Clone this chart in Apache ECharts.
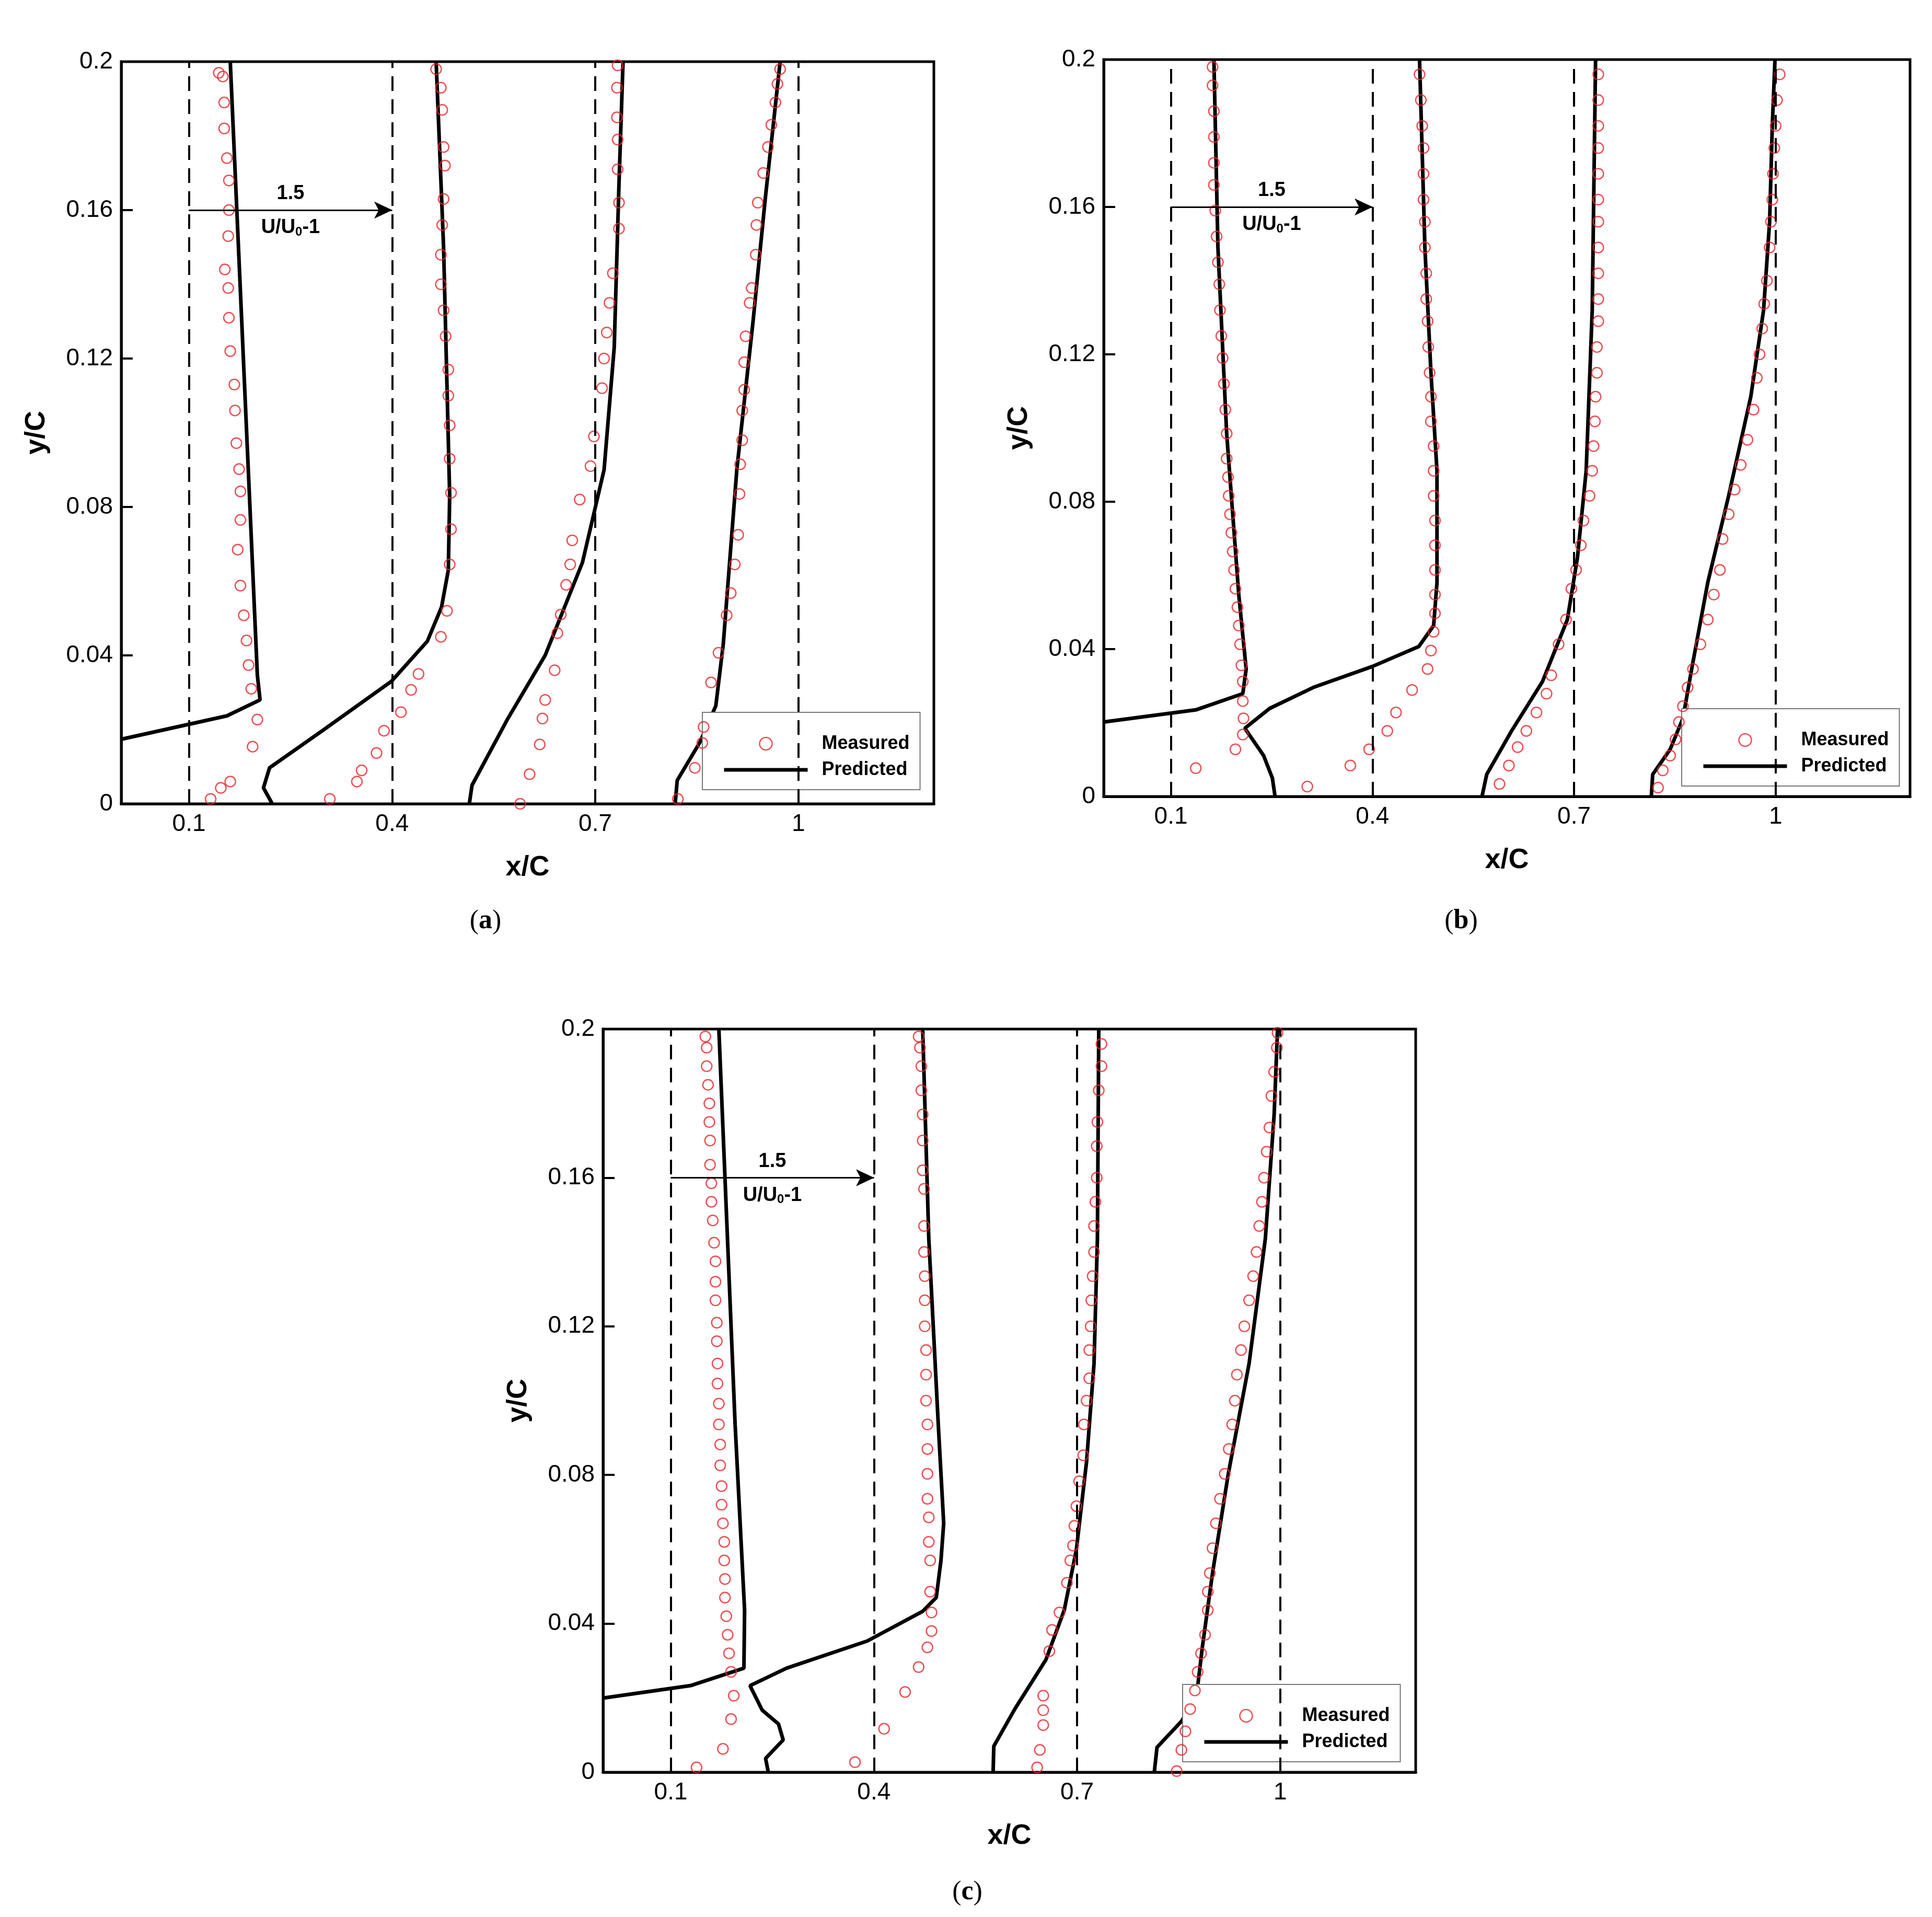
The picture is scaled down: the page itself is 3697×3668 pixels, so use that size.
<!DOCTYPE html>
<html><head><meta charset="utf-8">
<script src="https://cdn.jsdelivr.net/npm/echarts@6/dist/echarts.min.js"></script>
<style>html,body{margin:0;padding:0;background:#fff}#c{width:3697px;height:3668px}</style>
</head><body><div id="c"></div>
<script>
const xTicks = [0.1, 0.4, 0.7, 1];
const baselines = [0.1, 0.4, 0.7, 1.0];

// Panel (a)
const a_pred1 = [[0,0.0174],[0.156,0.0237],[0.205,0.028],[0.201,0.0347],[0.161,0.2]];
const a_pred2 = [[0.223,0],[0.21,0.0043],[0.219,0.0097],[0.297,0.0197],[0.399,0.033],[0.452,0.0438],[0.473,0.053],[0.483,0.063],[0.485,0.083],[0.476,0.15],[0.465,0.2]];
const a_pred3 = [[0.514,0],[0.518,0.005],[0.571,0.023],[0.626,0.04],[0.681,0.065],[0.713,0.09],[0.728,0.123],[0.735,0.167],[0.741,0.2]];
const a_pred4 = [[0.818,0],[0.821,0.0063],[0.854,0.0164],[0.878,0.0264],[0.889,0.043],[0.909,0.09],[0.933,0.13],[0.951,0.163],[0.973,0.2]];
const a_meas1 = [[0.132,0.0013],[0.147,0.0043],[0.161,0.006],[0.194,0.0154],[0.201,0.0227],[0.192,0.031],[0.188,0.0374],[0.185,0.044],[0.181,0.0508],[0.176,0.0588],[0.172,0.0685],[0.176,0.0765],[0.176,0.0842],[0.174,0.0902],[0.17,0.0972],[0.168,0.106],[0.167,0.113],[0.161,0.122],[0.159,0.131],[0.158,0.139],[0.153,0.144],[0.158,0.153],[0.159,0.16],[0.159,0.168],[0.156,0.174],[0.152,0.182],[0.152,0.189],[0.15,0.196],[0.144,0.197]];
const a_meas2 = [[0.308,0.0013],[0.348,0.006],[0.355,0.009],[0.377,0.0137],[0.388,0.0197],[0.413,0.0247],[0.428,0.0307],[0.439,0.035],[0.472,0.045],[0.481,0.052],[0.485,0.0645],[0.487,0.074],[0.487,0.0838],[0.485,0.093],[0.485,0.102],[0.483,0.11],[0.483,0.117],[0.479,0.126],[0.476,0.133],[0.472,0.14],[0.472,0.148],[0.474,0.156],[0.476,0.163],[0.478,0.172],[0.476,0.177],[0.474,0.187],[0.472,0.193],[0.465,0.198]];
const a_meas3 = [[0.589,0],[0.603,0.008],[0.618,0.016],[0.622,0.023],[0.626,0.028],[0.64,0.036],[0.644,0.046],[0.649,0.051],[0.657,0.059],[0.663,0.0645],[0.666,0.071],[0.677,0.082],[0.693,0.091],[0.698,0.099],[0.71,0.112],[0.713,0.12],[0.717,0.127],[0.721,0.135],[0.726,0.143],[0.735,0.155],[0.735,0.162],[0.733,0.171],[0.733,0.179],[0.732,0.185],[0.732,0.193],[0.733,0.199]];
const a_meas4 = [[0.822,0.0013],[0.847,0.0097],[0.858,0.0164],[0.86,0.0207],[0.871,0.0327],[0.882,0.0407],[0.894,0.0508],[0.9,0.0568],[0.906,0.0645],[0.911,0.0725],[0.913,0.0835],[0.914,0.0915],[0.917,0.098],[0.917,0.106],[0.92,0.1116],[0.92,0.119],[0.922,0.126],[0.928,0.135],[0.931,0.139],[0.937,0.148],[0.938,0.156],[0.94,0.162],[0.948,0.17],[0.955,0.177],[0.96,0.183],[0.966,0.189],[0.969,0.194],[0.973,0.198]];

// Panel (b)
const b_pred1 = [[0,0.0202],[0.137,0.0235],[0.207,0.0279],[0.212,0.0346],[0.201,0.0548],[0.183,0.0985],[0.17,0.149],[0.164,0.2]];
const b_pred2 = [[0.255,0],[0.251,0.005],[0.238,0.0111],[0.21,0.0185],[0.247,0.0239],[0.312,0.0296],[0.4,0.0353],[0.469,0.0407],[0.491,0.0464],[0.496,0.0581],[0.496,0.0884],[0.487,0.115],[0.478,0.149],[0.47,0.2]];
const b_pred3 = [[0.563,0],[0.570,0.006],[0.607,0.0178],[0.653,0.0312],[0.69,0.048],[0.705,0.0648],[0.718,0.0884],[0.727,0.132],[0.732,0.2]];
const b_pred4 = [[0.815,0],[0.817,0.006],[0.843,0.0128],[0.862,0.0212],[0.875,0.0346],[0.899,0.0581],[0.93,0.0816],[0.963,0.1085],[0.982,0.132],[0.991,0.156],[0.995,0.182],[0.999,0.2]];
const b_meas1 = [[0.137,0.0077],[0.196,0.0128],[0.207,0.0168],[0.208,0.0212],[0.207,0.0259],[0.207,0.0312],[0.205,0.0356],[0.203,0.0413],[0.201,0.0464],[0.199,0.0514],[0.196,0.0564],[0.194,0.0615],[0.192,0.0665],[0.19,0.0716],[0.188,0.0766],[0.186,0.0816],[0.185,0.0867],[0.183,0.0917],[0.183,0.0985],[0.181,0.105],[0.179,0.112],[0.177,0.119],[0.175,0.125],[0.173,0.132],[0.172,0.139],[0.17,0.145],[0.168,0.152],[0.166,0.159],[0.164,0.166],[0.164,0.172],[0.164,0.179],[0.164,0.186],[0.162,0.193],[0.162,0.198]];
const b_meas2 = [[0.303,0.0027],[0.367,0.0084],[0.395,0.0128],[0.422,0.0178],[0.435,0.0228],[0.459,0.0289],[0.482,0.0346],[0.487,0.0396],[0.491,0.0447],[0.493,0.0497],[0.493,0.0548],[0.493,0.0615],[0.493,0.0682],[0.493,0.0749],[0.491,0.0816],[0.491,0.0884],[0.491,0.0951],[0.487,0.1018],[0.487,0.1085],[0.485,0.115],[0.483,0.122],[0.482,0.129],[0.48,0.135],[0.48,0.142],[0.478,0.149],[0.478,0.156],[0.476,0.162],[0.476,0.169],[0.476,0.176],[0.474,0.182],[0.472,0.189],[0.47,0.196]];
const b_meas3 = [[0.589,0.0034],[0.603,0.0084],[0.616,0.0134],[0.629,0.0178],[0.644,0.0228],[0.659,0.0279],[0.666,0.0329],[0.677,0.0413],[0.688,0.048],[0.696,0.0564],[0.703,0.0615],[0.71,0.0682],[0.714,0.0749],[0.723,0.0816],[0.727,0.0884],[0.729,0.0951],[0.731,0.1018],[0.732,0.1085],[0.734,0.115],[0.734,0.122],[0.736,0.129],[0.736,0.135],[0.736,0.142],[0.736,0.149],[0.736,0.156],[0.736,0.162],[0.736,0.169],[0.736,0.176],[0.736,0.182],[0.736,0.189],[0.736,0.196]];
const b_meas4 = [[0.825,0.0024],[0.832,0.0071],[0.843,0.0111],[0.851,0.0155],[0.856,0.0202],[0.862,0.0245],[0.869,0.0296],[0.877,0.0346],[0.888,0.0413],[0.899,0.048],[0.908,0.0548],[0.917,0.0615],[0.921,0.0699],[0.93,0.0766],[0.939,0.0833],[0.948,0.09],[0.958,0.0968],[0.967,0.105],[0.972,0.1136],[0.976,0.12],[0.98,0.127],[0.983,0.1337],[0.987,0.14],[0.991,0.149],[0.993,0.156],[0.995,0.162],[0.996,0.169],[0.998,0.176],[1.0,0.182],[1.002,0.189],[1.006,0.196]];

// Panel (c)
const c_pred1 = [[0.002,0.02],[0.129,0.0233],[0.208,0.028],[0.209,0.0436],[0.195,0.0936],[0.171,0.2]];
const c_pred2 = [[0.244,0],[0.240,0.0037],[0.266,0.0087],[0.259,0.013],[0.235,0.0167],[0.217,0.0233],[0.271,0.028],[0.39,0.0353],[0.472,0.0433],[0.492,0.047],[0.499,0.057],[0.503,0.067],[0.495,0.0936],[0.481,0.1436],[0.472,0.2]];
const c_pred3 = [[0.576,0],[0.577,0.007],[0.608,0.017],[0.654,0.0303],[0.681,0.0436],[0.699,0.06],[0.714,0.0836],[0.725,0.11],[0.73,0.1436],[0.732,0.2]];
const c_pred4 = [[0.814,0],[0.818,0.0067],[0.854,0.0137],[0.876,0.02],[0.885,0.0337],[0.9,0.0536],[0.923,0.08],[0.954,0.11],[0.978,0.1436],[0.991,0.177],[0.996,0.2]];
const c_meas1 = [[0.138,0.0013],[0.177,0.0063],[0.189,0.0143],[0.193,0.0206],[0.189,0.027],[0.186,0.032],[0.184,0.037],[0.182,0.042],[0.18,0.047],[0.18,0.052],[0.179,0.057],[0.179,0.062],[0.177,0.067],[0.175,0.072],[0.175,0.077],[0.173,0.0826],[0.173,0.0882],[0.171,0.0936],[0.171,0.0992],[0.169,0.1046],[0.169,0.11],[0.168,0.116],[0.168,0.121],[0.166,0.127],[0.166,0.132],[0.166,0.1375],[0.164,0.1425],[0.162,0.1485],[0.16,0.1535],[0.16,0.1585],[0.158,0.1635],[0.158,0.17],[0.157,0.175],[0.157,0.18],[0.155,0.185],[0.153,0.19],[0.153,0.195],[0.151,0.198]];
const c_meas2 = [[0.372,0.0027],[0.415,0.0117],[0.446,0.0216],[0.466,0.0283],[0.479,0.0336],[0.485,0.038],[0.485,0.043],[0.483,0.0486],[0.483,0.057],[0.481,0.062],[0.481,0.0686],[0.479,0.0736],[0.479,0.0803],[0.479,0.087],[0.479,0.0936],[0.477,0.1],[0.477,0.107],[0.477,0.1136],[0.475,0.12],[0.475,0.127],[0.475,0.1335],[0.474,0.14],[0.474,0.147],[0.474,0.157],[0.472,0.162],[0.472,0.17],[0.472,0.177],[0.47,0.1835],[0.47,0.19],[0.468,0.195],[0.466,0.198]];
const c_meas3 = [[0.641,0.0013],[0.645,0.006],[0.65,0.0127],[0.65,0.0167],[0.65,0.0206],[0.659,0.0326],[0.663,0.0383],[0.674,0.043],[0.685,0.051],[0.69,0.057],[0.694,0.061],[0.696,0.0663],[0.699,0.0716],[0.703,0.0783],[0.709,0.0853],[0.71,0.0936],[0.714,0.1],[0.718,0.106],[0.718,0.1136],[0.72,0.12],[0.721,0.127],[0.723,0.1335],[0.725,0.14],[0.725,0.147],[0.727,0.1535],[0.729,0.16],[0.729,0.1685],[0.73,0.175],[0.732,0.1835],[0.736,0.19],[0.736,0.196]];
const c_meas4 = [[0.847,0.0003],[0.854,0.006],[0.86,0.011],[0.867,0.017],[0.874,0.022],[0.878,0.027],[0.883,0.032],[0.889,0.037],[0.893,0.0436],[0.893,0.0486],[0.896,0.0536],[0.9,0.0603],[0.905,0.067],[0.911,0.0736],[0.918,0.0803],[0.924,0.087],[0.929,0.0936],[0.933,0.1],[0.936,0.107],[0.942,0.1136],[0.947,0.12],[0.954,0.127],[0.96,0.1335],[0.965,0.14],[0.969,0.147],[0.973,0.1535],[0.976,0.16],[0.98,0.167],[0.984,0.1735],[0.987,0.182],[0.991,0.1885],[0.995,0.195],[0.996,0.199]];

const panels = [
  {pred:[a_pred1,a_pred2,a_pred3,a_pred4], meas:[a_meas1,a_meas2,a_meas3,a_meas4], grid:{left:232,top:118,width:1555,height:1420}, legend:{left:1344,top:1363}, cap:'a', capPos:[929,1763]},
  {pred:[b_pred1,b_pred2,b_pred3,b_pred4], meas:[b_meas1,b_meas2,b_meas3,b_meas4], grid:{left:2112,top:114,width:1543,height:1410}, legend:{left:3218,top:1356}, cap:'b', capPos:[2796,1763]},
  {pred:[c_pred1,c_pred2,c_pred3,c_pred4], meas:[c_meas1,c_meas2,c_meas3,c_meas4], grid:{left:1154,top:1969,width:1555,height:1422}, legend:{left:2263,top:3223}, cap:'c', capPos:[1851,3621]}
];

const font = 'Liberation Sans';
const red = '#e8242b';
const grids=[], xAxes=[], yAxes=[], series=[], legends=[], graphics=[];
const lblT = {fontFamily:font,fontSize:38,fontWeight:'bold',color:'#000'};
panels.forEach((p,i)=>{
  grids.push(Object.assign({show:true,borderColor:'#000',borderWidth:5,backgroundColor:'#fff'},p.grid));
  xAxes.push({gridIndex:i,type:'value',min:0,max:1.2,interval:0.1,name:'x/C',nameLocation:'middle',nameGap:95,
    nameTextStyle:{fontFamily:font,fontSize:54,fontWeight:'bold',color:'#000'},
    axisLine:{lineStyle:{color:'#000',width:5}},splitLine:{show:false},
    axisTick:{inside:true,length:22,lineStyle:{width:4,color:'#000'},customValues:xTicks},
    axisLabel:{fontFamily:font,fontSize:46,color:'#000',margin:16,customValues:xTicks,formatter:v=>String(+v.toFixed(2))}});
  yAxes.push({gridIndex:i,type:'value',min:0,max:0.2,interval:0.04,name:'y/C',nameLocation:'middle',nameGap:135,
    nameTextStyle:{fontFamily:font,fontSize:54,fontWeight:'bold',color:'#000'},
    axisLine:{lineStyle:{color:'#000',width:5}},splitLine:{show:false},
    axisTick:{inside:true,length:22,lineStyle:{width:4,color:'#000'}},
    axisLabel:{fontFamily:font,fontSize:46,color:'#000',margin:16,formatter:v=>String(+v.toFixed(2))}});
  series.push({type:'line',xAxisIndex:i,yAxisIndex:i,data:[],silent:true,
    markLine:{symbol:'none',silent:true,label:{show:false},
      lineStyle:{type:[28,16],color:'#000',width:4},
      data:baselines.map(b=>({xAxis:b}))}});
  series.push({type:'line',xAxisIndex:i,yAxisIndex:i,data:[],silent:true,
    markLine:{symbol:['none','arrow'],symbolSize:[24,34],silent:true,
      lineStyle:{type:'solid',color:'#000',width:3},
      data:[
        [{coord:[0.1,0.16],label:{show:true,position:'insideMiddleTop',distance:12,formatter:'{t|1.5}',rich:{t:lblT}}},{coord:[0.4,0.16]}],
        [{coord:[0.1,0.16],label:{show:true,position:'insideMiddleBottom',distance:14,formatter:'{t|U/U}{s|0}{t|-1}',
          rich:{t:lblT,s:{fontFamily:font,fontSize:24,fontWeight:'bold',color:'#000',padding:[16,0,0,0]}}}},{coord:[0.4,0.16]}]
      ]}});
  p.pred.forEach(d=>series.push({name:'Predicted',type:'line',xAxisIndex:i,yAxisIndex:i,data:d,
    showSymbol:false,symbol:'none',lineStyle:{color:'#000',width:7},itemStyle:{color:'#000'},z:3}));
  p.meas.forEach(d=>series.push({name:'Measured',type:'scatter',xAxisIndex:i,yAxisIndex:i,data:d,
    symbol:'circle',symbolSize:20,itemStyle:{color:'rgba(255,255,255,0)',borderColor:red,borderWidth:2.5},z:4}));
  legends.push({left:p.legend.left,top:p.legend.top,orient:'vertical',backgroundColor:'#fff',borderColor:'#777',borderWidth:2,
    padding:[42,20,20,38],itemGap:14,itemWidth:160,itemHeight:24,
    textStyle:{fontFamily:font,fontSize:36,fontWeight:'bold',color:'#000',padding:[0,0,0,22]},
    data:[{name:'Measured',icon:'circle',itemStyle:{color:'rgba(255,255,255,0)',borderColor:red,borderWidth:2.5}},
          {name:'Predicted',itemStyle:{opacity:0},lineStyle:{color:'#000',width:7}}]});
  graphics.push({type:'text',x:p.capPos[0],y:p.capPos[1],style:{text:'{n|(}{b|'+p.cap+'}{n|)}',
    rich:{n:{font:'52px "Liberation Serif"',fill:'#000'},b:{font:'bold 52px "Liberation Serif"',fill:'#000'}},
    textAlign:'center',textVerticalAlign:'middle'}});
});

const chart = echarts.init(document.getElementById('c'));
chart.setOption({backgroundColor:'#fff',animation:false,grid:grids,xAxis:xAxes,yAxis:yAxes,series,legend:legends,graphic:graphics});
</script></body></html>
